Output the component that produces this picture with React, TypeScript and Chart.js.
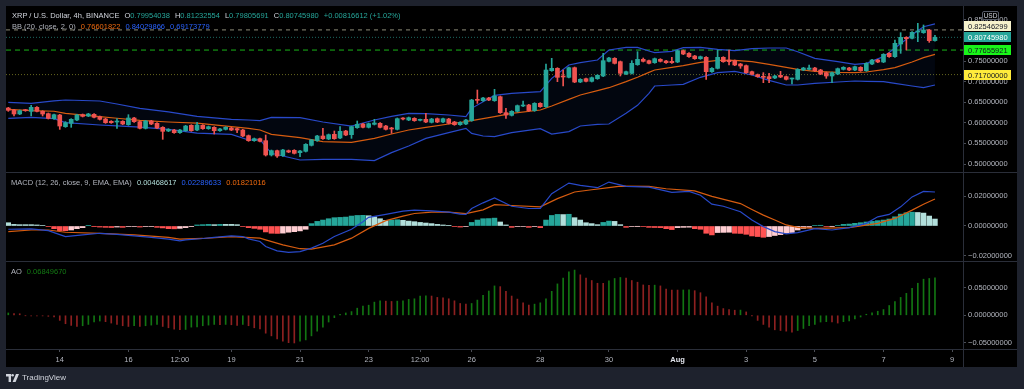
import React, { useEffect, useRef } from "react";
import { Chart, registerables } from "chart.js";

Chart.register(...registerables);

// ---------------- DATA ----------------
const opens = [
  0.6359, 0.6311, 0.6214, 0.6311, 0.6278, 0.6375, 0.6278, 0.6222, 0.6100, 0.6189,
  0.5906, 0.5987, 0.6068, 0.6197, 0.6165, 0.6206, 0.6149, 0.6092, 0.6036, 0.6019,
  0.6036, 0.5955, 0.6117, 0.6028, 0.5866, 0.6044, 0.5987, 0.5890, 0.5801, 0.5825,
  0.5761, 0.5809, 0.5939, 0.5825, 0.5939, 0.5858, 0.5890, 0.5809, 0.5841, 0.5874,
  0.5858, 0.5825, 0.5688, 0.5566, 0.5615, 0.5566, 0.5219, 0.5324, 0.5202, 0.5324,
  0.5332, 0.5275, 0.5308, 0.5453, 0.5566, 0.5680, 0.5607, 0.5720, 0.5631, 0.5801,
  0.5712, 0.5882, 0.5971, 0.5890, 0.5963, 0.5987, 0.5922, 0.5866, 0.5841, 0.6100,
  0.6068, 0.6108, 0.6060, 0.6084, 0.6011, 0.6100, 0.6019, 0.6092, 0.6019, 0.5955,
  0.5971, 0.6052, 0.6553, 0.6537, 0.6602, 0.6537, 0.6634, 0.6246, 0.6181, 0.6278,
  0.6408, 0.6432, 0.6295, 0.6472, 0.6392, 0.7265, 0.7322, 0.7120, 0.7104, 0.7338,
  0.6990, 0.7071, 0.7006, 0.7071, 0.7136, 0.7492, 0.7565, 0.7484, 0.7184, 0.7201,
  0.7411, 0.7540, 0.7508, 0.7459, 0.7540, 0.7500, 0.7492, 0.7476, 0.7751, 0.7686,
  0.7621, 0.7557, 0.7589, 0.7241, 0.7322, 0.7589, 0.7524, 0.7508, 0.7427, 0.7387,
  0.7241, 0.7168, 0.7112, 0.7120, 0.7087, 0.7152, 0.7120, 0.7063, 0.7055, 0.7281,
  0.7298, 0.7330, 0.7281, 0.7217, 0.7136, 0.7184, 0.7298, 0.7330, 0.7281, 0.7346,
  0.7265, 0.7427, 0.7524, 0.7476, 0.7686, 0.7605, 0.7913, 0.8074, 0.8050, 0.8204,
  0.8188, 0.8252, 0.79954038,
];
const highs = [
  0.6375, 0.6327, 0.6311, 0.6327, 0.6424, 0.6392, 0.6295, 0.6238, 0.6214, 0.6206,
  0.6028, 0.6100, 0.6206, 0.6214, 0.6230, 0.6222, 0.6165, 0.6108, 0.6052, 0.6100,
  0.6052, 0.6197, 0.6133, 0.6044, 0.6060, 0.6060, 0.6003, 0.5906, 0.5858, 0.5841,
  0.5841, 0.5939, 0.5955, 0.6011, 0.5955, 0.5922, 0.5906, 0.5866, 0.5906, 0.5890,
  0.5874, 0.5841, 0.5704, 0.5631, 0.5631, 0.5704, 0.5340, 0.5340, 0.5356, 0.5340,
  0.5348, 0.5332, 0.5494, 0.5599, 0.5696, 0.5866, 0.5728, 0.5801, 0.5906, 0.5817,
  0.5922, 0.6044, 0.5987, 0.5995, 0.6084, 0.6003, 0.5939, 0.5890, 0.6117, 0.6125,
  0.6141, 0.6125, 0.6092, 0.6230, 0.6108, 0.6117, 0.6117, 0.6108, 0.6036, 0.6028,
  0.6084, 0.6570, 0.6796, 0.6618, 0.6618, 0.6812, 0.6650, 0.6351, 0.6295, 0.6432,
  0.6529, 0.6448, 0.6489, 0.6489, 0.7427, 0.7565, 0.7338, 0.7281, 0.7354, 0.7354,
  0.7071, 0.7087, 0.7112, 0.7168, 0.7686, 0.7589, 0.7581, 0.7500, 0.7257, 0.7508,
  0.7726, 0.7573, 0.7524, 0.7573, 0.7557, 0.7516, 0.7589, 0.7767, 0.7767, 0.7702,
  0.7637, 0.7621, 0.7605, 0.7338, 0.7767, 0.7605, 0.7767, 0.7524, 0.7443, 0.7403,
  0.7257, 0.7184, 0.7217, 0.7201, 0.7152, 0.7249, 0.7136, 0.7087, 0.7314, 0.7346,
  0.7403, 0.7346, 0.7298, 0.7233, 0.7233, 0.7330, 0.7362, 0.7346, 0.7379, 0.7362,
  0.7459, 0.7540, 0.7540, 0.7678, 0.7702, 0.8010, 0.8188, 0.8090, 0.8212, 0.8414,
  0.8374, 0.8268, 0.81232554,
];
const lows = [
  0.6278, 0.6165, 0.6197, 0.6278, 0.6165, 0.6262, 0.6165, 0.6092, 0.6084, 0.5841,
  0.5890, 0.5890, 0.6052, 0.6141, 0.6149, 0.6117, 0.6068, 0.5987, 0.5987, 0.5866,
  0.5955, 0.5939, 0.6011, 0.5850, 0.5850, 0.5955, 0.5858, 0.5599, 0.5785, 0.5744,
  0.5744, 0.5793, 0.5793, 0.5809, 0.5841, 0.5841, 0.5728, 0.5793, 0.5825, 0.5809,
  0.5761, 0.5663, 0.5550, 0.5550, 0.5534, 0.5194, 0.5194, 0.5162, 0.5186, 0.5275,
  0.5243, 0.5178, 0.5291, 0.5437, 0.5550, 0.5599, 0.5591, 0.5599, 0.5615, 0.5688,
  0.5623, 0.5866, 0.5874, 0.5874, 0.5947, 0.5874, 0.5825, 0.5744, 0.5825, 0.6068,
  0.6052, 0.6036, 0.6044, 0.6003, 0.5995, 0.6003, 0.6003, 0.5971, 0.5939, 0.5939,
  0.5955, 0.6036, 0.6472, 0.6521, 0.6537, 0.6521, 0.6230, 0.6108, 0.6165, 0.6262,
  0.6392, 0.6278, 0.6278, 0.6375, 0.6375, 0.7249, 0.6998, 0.6893, 0.7087, 0.6974,
  0.6974, 0.6990, 0.6990, 0.7055, 0.7120, 0.7476, 0.7427, 0.7136, 0.7168, 0.7184,
  0.7395, 0.7476, 0.7427, 0.7443, 0.7476, 0.7443, 0.7443, 0.7459, 0.7654, 0.7589,
  0.7540, 0.7540, 0.7055, 0.7225, 0.7306, 0.7468, 0.7403, 0.7387, 0.7322, 0.7201,
  0.7160, 0.7104, 0.6974, 0.6974, 0.7071, 0.7095, 0.7039, 0.6942, 0.7039, 0.7265,
  0.7281, 0.7249, 0.7168, 0.7079, 0.6974, 0.7168, 0.7281, 0.7265, 0.7265, 0.7249,
  0.7249, 0.7411, 0.7459, 0.7459, 0.7589, 0.7589, 0.7686, 0.7767, 0.8034, 0.7969,
  0.8171, 0.7953, 0.79805691,
];
const closes = [
  0.6303, 0.6214, 0.6295, 0.6295, 0.6375, 0.6278, 0.6214, 0.6108, 0.6197, 0.5922,
  0.6003, 0.6084, 0.6189, 0.6157, 0.6214, 0.6133, 0.6084, 0.6003, 0.6003, 0.6036,
  0.5971, 0.6117, 0.6028, 0.5866, 0.6044, 0.5971, 0.5874, 0.5793, 0.5841, 0.5761,
  0.5825, 0.5922, 0.5809, 0.5947, 0.5858, 0.5906, 0.5809, 0.5850, 0.5890, 0.5825,
  0.5825, 0.5680, 0.5566, 0.5615, 0.5550, 0.5219, 0.5324, 0.5194, 0.5340, 0.5291,
  0.5259, 0.5316, 0.5477, 0.5583, 0.5680, 0.5615, 0.5712, 0.5615, 0.5793, 0.5704,
  0.5906, 0.5963, 0.5890, 0.5979, 0.5995, 0.5890, 0.5841, 0.5850, 0.6100, 0.6092,
  0.6125, 0.6052, 0.6076, 0.6019, 0.6092, 0.6019, 0.6100, 0.5987, 0.5955, 0.6011,
  0.6068, 0.6553, 0.6545, 0.6602, 0.6553, 0.6650, 0.6246, 0.6189, 0.6278, 0.6416,
  0.6432, 0.6295, 0.6472, 0.6392, 0.7281, 0.7322, 0.7104, 0.7112, 0.7338, 0.6990,
  0.7055, 0.7006, 0.7095, 0.7152, 0.7508, 0.7573, 0.7443, 0.7201, 0.7241, 0.7443,
  0.7540, 0.7492, 0.7443, 0.7557, 0.7492, 0.7459, 0.7459, 0.7751, 0.7670, 0.7605,
  0.7557, 0.7605, 0.7241, 0.7322, 0.7589, 0.7484, 0.7484, 0.7403, 0.7379, 0.7217,
  0.7176, 0.7120, 0.7104, 0.7071, 0.7136, 0.7112, 0.7055, 0.7071, 0.7298, 0.7330,
  0.7330, 0.7265, 0.7184, 0.7136, 0.7217, 0.7314, 0.7346, 0.7281, 0.7362, 0.7265,
  0.7443, 0.7524, 0.7476, 0.7662, 0.7605, 0.7929, 0.8074, 0.8042, 0.8196, 0.8212,
  0.8252, 0.7993, 0.8074598,
];

// Bollinger Bands (20, close, 2) at these candle indices
const bbIdx = [
  0, 4, 8, 10, 16, 19, 23, 28, 33, 39, 42, 44, 46, 51, 55, 60, 64, 67, 70, 73,
  77, 80, 81, 83, 85, 88, 93, 95, 98, 100, 103, 105, 108, 110, 112, 113, 116, 118, 121, 124,
  127, 130, 133, 136, 138, 141, 145, 148, 150, 153, 155, 158, 160, 162,
];
const bbUpper = [
  0.6497, 0.6472, 0.6530, 0.6553, 0.6529, 0.6456, 0.6351, 0.6265, 0.6155, 0.6084,
  0.6068, 0.6052, 0.6133, 0.6125, 0.6019, 0.5922, 0.6068, 0.6157, 0.6230, 0.6222,
  0.6189, 0.6149, 0.6351, 0.6513, 0.6666, 0.6715, 0.6756, 0.7079, 0.7403, 0.7459,
  0.7524, 0.7767, 0.7832, 0.7832, 0.7743, 0.7702, 0.7735, 0.7824, 0.7832, 0.7783,
  0.7751, 0.7799, 0.7816, 0.7816, 0.7726, 0.7565, 0.7484, 0.7419, 0.7443, 0.7605,
  0.7816, 0.8139, 0.8333, 0.84029866,
];
const bbBasis = [
  0.6327, 0.6295, 0.6280, 0.6230, 0.6149, 0.6110, 0.6060, 0.6019, 0.5990, 0.5906,
  0.5866, 0.5825, 0.5720, 0.5640, 0.5542, 0.5526, 0.5623, 0.5728, 0.5825, 0.5890,
  0.5971, 0.6028, 0.6052, 0.6100, 0.6149, 0.6230, 0.6311, 0.6408, 0.6570, 0.6675,
  0.6780, 0.6852, 0.6998, 0.7104, 0.7225, 0.7281, 0.7346, 0.7387, 0.7468, 0.7516,
  0.7516, 0.7484, 0.7419, 0.7346, 0.7298, 0.7249, 0.7225, 0.7217, 0.7233, 0.7290,
  0.7338, 0.7476, 0.7581, 0.76601822,
];
const bbLower = [
  0.6108, 0.6133, 0.6100, 0.6003, 0.5947, 0.5925, 0.5895, 0.5841, 0.5750, 0.5720,
  0.5583, 0.5590, 0.5259, 0.5097, 0.5113, 0.5113, 0.5081, 0.5275, 0.5437, 0.5623,
  0.5761, 0.5866, 0.5744, 0.5680, 0.5664, 0.5761, 0.5858, 0.5728, 0.5785, 0.5922,
  0.5963, 0.5971, 0.6230, 0.6424, 0.6715, 0.6893, 0.6918, 0.6933, 0.7104, 0.7217,
  0.7249, 0.7160, 0.7031, 0.6918, 0.6918, 0.6958, 0.6990, 0.7015, 0.7006, 0.6998,
  0.6958, 0.6893, 0.6853, 0.69173779,
];

// MACD (12, 26, close, 9)
const macdIdx = [
  0, 4, 7, 10, 13, 16, 19, 22, 25, 28, 30, 31, 34, 36, 39, 41, 42, 44, 45, 47,
  49, 51, 53, 55, 57, 60, 62, 63, 66, 69, 71, 74, 77, 79, 80, 81, 83, 85, 88, 91,
  93, 95, 98, 100, 103, 105, 108, 112, 116, 119, 121, 123, 125, 128, 130, 132, 134, 136, 138, 141,
  144, 147, 150, 152, 154, 156, 158, 160, 162,
];
const macdLine = [
  -0.0022, -0.0020, -0.0031, -0.0071, -0.0060, -0.0049, -0.0056, -0.0067, -0.0076, -0.0089,
  -0.0100, -0.0093, -0.0084, -0.0076, -0.0067, -0.0071, -0.0087, -0.0104, -0.0138, -0.0167,
  -0.0178, -0.0173, -0.0149, -0.0116, -0.0071, -0.0022, 0.0029, 0.0058, 0.0078, 0.0100,
  0.0107, 0.0102, 0.0093, 0.0080, 0.0078, 0.0118, 0.0156, 0.0189, 0.0133, 0.0118,
  0.0118, 0.0218, 0.0289, 0.0273, 0.0258, 0.0296, 0.0267, 0.0262, 0.0227, 0.0233,
  0.0207, 0.0147, 0.0133, 0.0096, 0.0040, -0.0004, -0.0038, -0.0053, -0.0044, -0.0018,
  -0.0027, -0.0011, 0.0018, 0.0062, 0.0078, 0.0129, 0.0196, 0.0233, 0.02289633,
];
const signalIdx = [
  0, 4, 7, 10, 16, 22, 28, 30, 34, 39, 44, 45, 48, 51, 53, 57, 60, 63, 66, 69,
  71, 74, 77, 80, 83, 85, 88, 93, 96, 99, 102, 105, 107, 112, 115, 120, 123, 128, 130, 132,
  134, 136, 138, 141, 147, 152, 155, 158, 160, 162,
];
const signalLine = [
  -0.0038, -0.0027, -0.0027, -0.0042, -0.0049, -0.0060, -0.0076, -0.0089, -0.0084, -0.0071,
  -0.0082, -0.0093, -0.0127, -0.0153, -0.0156, -0.0127, -0.0082, -0.0016, 0.0036, 0.0067,
  0.0084, 0.0093, 0.0093, 0.0084, 0.0109, 0.0144, 0.0138, 0.0129, 0.0184, 0.0229,
  0.0244, 0.0258, 0.0269, 0.0267, 0.0251, 0.0236, 0.0200, 0.0151, 0.0111, 0.0073,
  0.0040, 0.0007, -0.0009, -0.0016, -0.0011, 0.0018, 0.0051, 0.0107, 0.0147, 0.01821016,
];
const macdHist = [
  0.0022, 0.0011, 0.0009, 0.0009, 0.0009, 0.0007, 0.0004, -0.0004, -0.0018, -0.0031,
  -0.0032, -0.0027, -0.0018, -0.0011, 0.0002, -0.0002, -0.0007, -0.0009, -0.0010, -0.0007,
  -0.0009, -0.0004, -0.0004, -0.0007, -0.0004, -0.0004, -0.0009, -0.0013, -0.0018, -0.0019,
  -0.0016, -0.0011, -0.0002, 0.0007, 0.0009, 0.0011, 0.0009, 0.0011, 0.0011, 0.0011,
  0.0009, -0.0004, -0.0011, -0.0016, -0.0022, -0.0040, -0.0049, -0.0050, -0.0048, -0.0042,
  -0.0038, -0.0033, -0.0022, 0.0016, 0.0031, 0.0040, 0.0049, 0.0056, 0.0058, 0.0060,
  0.0067, 0.0071, 0.0072, 0.0069, 0.0062, 0.0049, 0.0038, 0.0040, 0.0042, 0.0038,
  0.0033, 0.0029, 0.0024, 0.0020, 0.0016, 0.0011, 0.0007, 0.0002, -0.0004, -0.0007,
  -0.0004, 0.0024, 0.0040, 0.0049, 0.0050, 0.0053, 0.0027, 0.0007, -0.0009, -0.0004,
  -0.0003, -0.0009, -0.0004, -0.0011, 0.0040, 0.0071, 0.0078, 0.0077, 0.0079, 0.0056,
  0.0040, 0.0022, 0.0016, 0.0009, 0.0024, 0.0033, 0.0031, 0.0009, -0.0009, -0.0004,
  -0.0002, -0.0004, -0.0009, -0.0010, -0.0011, -0.0018, -0.0024, -0.0011, -0.0009, -0.0008,
  -0.0018, -0.0022, -0.0049, -0.0060, -0.0044, -0.0043, -0.0042, -0.0049, -0.0050, -0.0056,
  -0.0067, -0.0071, -0.0076, -0.0071, -0.0064, -0.0058, -0.0049, -0.0044, -0.0027, -0.0016,
  -0.0009, 0.0004, 0.0005, -0.0004, -0.0002, 0.0004, 0.0011, 0.0013, 0.0018, 0.0022,
  0.0027, 0.0031, 0.0036, 0.0040, 0.0047, 0.0062, 0.0080, 0.0089, 0.0093, 0.0091,
  0.0087, 0.0067, 0.00468617,
];

// Awesome Oscillator
const aoValues = [
  0.0043, 0.0031, 0.0028, -0.0006, -0.0008, -0.0009, -0.0011, -0.0019, -0.0031, -0.0093,
  -0.0154, -0.0185, -0.0204, -0.0191, -0.0167, -0.0123, -0.0105, -0.0117, -0.0142, -0.0167,
  -0.0191, -0.0204, -0.0191, -0.0204, -0.0191, -0.0179, -0.0167, -0.0204, -0.0228, -0.0253,
  -0.0265, -0.0259, -0.0216, -0.0214, -0.0191, -0.0179, -0.0167, -0.0173, -0.0167, -0.0173,
  -0.0185, -0.0167, -0.0191, -0.0228, -0.0247, -0.0327, -0.0376, -0.0432, -0.0475, -0.0500,
  -0.0506, -0.0475, -0.0450, -0.0376, -0.0290, -0.0216, -0.0123, -0.0043, 0.0019, 0.0043,
  0.0068, 0.0130, 0.0167, 0.0185, 0.0241, 0.0265, 0.0259, 0.0253, 0.0259, 0.0265,
  0.0290, 0.0302, 0.0352, 0.0358, 0.0352, 0.0327, 0.0321, 0.0302, 0.0265, 0.0216,
  0.0204, 0.0216, 0.0278, 0.0367, 0.0444, 0.0537, 0.0524, 0.0438, 0.0352, 0.0296,
  0.0228, 0.0185, 0.0204, 0.0228, 0.0302, 0.0438, 0.0574, 0.0679, 0.0796, 0.0827,
  0.0740, 0.0679, 0.0636, 0.0586, 0.0584, 0.0629, 0.0673, 0.0691, 0.0679, 0.0636,
  0.0605, 0.0555, 0.0549, 0.0551, 0.0537, 0.0481, 0.0463, 0.0461, 0.0463, 0.0465,
  0.0450, 0.0413, 0.0339, 0.0228, 0.0167, 0.0123, 0.0105, 0.0093, 0.0095, 0.0062,
  -0.0006, -0.0093, -0.0167, -0.0216, -0.0265, -0.0278, -0.0290, -0.0309, -0.0278, -0.0241,
  -0.0191, -0.0167, -0.0123, -0.0117, -0.0123, -0.0142, -0.0117, -0.0105, -0.0068, -0.0031,
  0.0019, 0.0043, 0.0074, 0.0105, 0.0179, 0.0253, 0.0327, 0.0401, 0.0494, 0.0586,
  0.0660, 0.0673, 0.0684967,
];

// Horizontal price levels shown with labels on the price scale
const levelValues = [0.82546299, 0.8074598, 0.77655921, 0.717];

// Axis ticks
const priceTicks = [0.5, 0.55, 0.6, 0.65, 0.7, 0.75, 0.8, 0.85];
const macdTicks = [-0.02, 0, 0.02];
const aoTicks = [-0.05, 0, 0.05];
const timeTickIdx = [9, 21, 30, 39, 51, 63, 72, 81, 93, 105, 117, 129, 141, 153, 165];
const timeTickLabels = ["14", "16", "12:00", "19", "21", "23", "12:00", "26", "28", "30", "Aug", "3", "5", "7", "9"];

// ---------------- STYLE ----------------
const FONT = '"Liberation Sans", Arial, sans-serif';
const FS = 7.5;
const UP = "#26a69a";
const DOWN = "#ef5350";
const BLUE = "#2962ff";
const ORANGE = "#f06a0e";
const BLUE_LINE = "#2849c9";
const ORANGE_LINE = "#d65c10";
const AXIS_TEXT = "#b2b5be";
const SEP = "#2a2e39";
const X_MIN = -0.4;
const X_MAX = 166.9;

const levelStyles = [
  { line: "#8e8c78", dash: [4, 4], bg: "#f6f2cc", text: "#131722" },
  { line: "#1d6a63", dash: [1, 2], bg: "#26a69a", text: "#ffffff" },
  { line: "#19b419", dash: [5, 4], bg: "#19f519", text: "#131722" },
  { line: "#66661e", dash: [1, 2], bg: "#ffeb3b", text: "#131722" },
];

const fmt = (v: number) => (Math.abs(v) < 1e-12 ? 0 : v).toFixed(8).replace("-", "\u2212");

function yScale(min: number, max: number, ticks: number[]) {
  return {
    position: "right",
    min,
    max,
    afterBuildTicks: (s: any) => {
      s.ticks = ticks.map((v) => ({ value: v }));
    },
    afterFit: (s: any) => {
      s.width = 54;
      s.paddingTop = 0;
      s.paddingBottom = 0;
    },
    ticks: {
      padding: 2,
      color: AXIS_TEXT,
      font: { family: FONT, size: FS },
      callback: (v: any) => fmt(Number(v)),
    },
    grid: { drawOnChartArea: false, drawTicks: true, tickLength: 3, color: "#4a4d55" },
    border: { display: false },
  };
}

function xScale(display: boolean) {
  return {
    type: "linear",
    min: X_MIN,
    max: X_MAX,
    offset: false,
    display,
    afterBuildTicks: (s: any) => {
      s.ticks = timeTickIdx.map((v) => ({ value: v }));
    },
    afterFit: (s: any) => {
      s.height = display ? 18 : 0;
      s.paddingLeft = 0;
      s.paddingRight = 0;
    },
    ticks: {
      autoSkip: false,
      maxRotation: 0,
      minRotation: 0,
      padding: 3,
      color: (c: any) => (c.tick && c.tick.value === 117 ? "#e0e3eb" : AXIS_TEXT),
      font: (c: any) => ({
        family: FONT,
        size: FS,
        weight: c.tick && c.tick.value === 117 ? "bold" : "normal",
      }),
      callback: (v: any) => {
        const k = timeTickIdx.indexOf(Number(v));
        return k >= 0 ? timeTickLabels[k] : "";
      },
    },
    grid: { drawOnChartArea: false, drawTicks: true, tickLength: 3, offset: false, color: "#4a4d55" },
    border: { display: false },
  };
}

const badgePlugin = {
  id: "priceBadges",
  afterDraw(chart: any) {
    const { ctx, chartArea, scales } = chart;
    const ys = scales.y;
    const items = levelValues.map((v, k) => ({ v, k, py: ys.getPixelForValue(v) }));
    items.sort((a, b) => a.py - b.py);
    const h = 10;
    const step = 11;
    for (let i = items.length - 2; i >= 0; i--) {
      if (items[i + 1].py - items[i].py < step) items[i].py = items[i + 1].py - step;
    }
    ctx.save();
    ctx.font = `${FS}px ${FONT}`;
    ctx.textBaseline = "middle";
    ctx.textAlign = "left";
    items.forEach((it) => {
      const st = levelStyles[it.k];
      ctx.fillStyle = st.bg;
      ctx.fillRect(chartArea.right, Math.round(it.py - h / 2), 48, h);
      ctx.fillStyle = st.text;
      ctx.fillText(it.v.toFixed(8), chartArea.right + 5, Math.round(it.py - h / 2) + h / 2 + 0.5);
    });
    ctx.restore();
  },
};

const baseOptions = {
  responsive: false,
  animation: false,
  devicePixelRatio: 1,
  events: [],
  layout: { padding: 0 },
  plugins: { legend: { display: false }, tooltip: { enabled: false } },
};

export default function App() {
  const priceRef = useRef<HTMLCanvasElement>(null);
  const macdRef = useRef<HTMLCanvasElement>(null);
  const aoRef = useRef<HTMLCanvasElement>(null);

  useEffect(() => {
    document.body.style.margin = "0";
    document.body.style.background = "#1e222d";
    const idx = closes.map((_, i) => i);
    const candleColors = idx.map((i) => (closes[i] >= opens[i] ? UP : DOWN));

    const priceChart = new Chart(priceRef.current as HTMLCanvasElement, {
      type: "bar",
      data: {
        datasets: [
          {
            type: "bar",
            data: idx.map((i) => ({ x: i, y: [opens[i], closes[i]] })),
            backgroundColor: candleColors,
            barThickness: 4,
            grouped: false,
            minBarLength: 1,
            order: 0,
          },
          {
            type: "bar",
            data: idx.map((i) => ({ x: i, y: [lows[i], highs[i]] })),
            backgroundColor: candleColors,
            barThickness: 1,
            grouped: false,
            order: 1,
          },
          {
            type: "line",
            data: bbIdx.map((x, k) => ({ x, y: bbUpper[k] })),
            borderColor: BLUE_LINE,
            borderWidth: 1.2,
            pointRadius: 0,
            fill: false,
            order: 3,
          },
          {
            type: "line",
            data: bbIdx.map((x, k) => ({ x, y: bbLower[k] })),
            borderColor: BLUE_LINE,
            borderWidth: 1.2,
            pointRadius: 0,
            fill: 2,
            backgroundColor: "rgba(41,98,255,0.06)",
            order: 3,
          },
          {
            type: "line",
            data: bbIdx.map((x, k) => ({ x, y: bbBasis[k] })),
            borderColor: ORANGE_LINE,
            borderWidth: 1.2,
            pointRadius: 0,
            fill: false,
            order: 2,
          },
          ...levelValues.map((v, k) => ({
            type: "line",
            data: [
              { x: X_MIN, y: v },
              { x: X_MAX, y: v },
            ],
            borderColor: levelStyles[k].line,
            borderDash: levelStyles[k].dash,
            borderWidth: 1,
            pointRadius: 0,
            fill: false,
            order: 5,
          })),
        ] as any,
      },
      options: {
        ...baseOptions,
        scales: {
          x: xScale(false),
          y: yScale(0.48059, 0.8835, priceTicks),
        },
      } as any,
      plugins: [badgePlugin],
    });

    const histColors = macdHist.map((v, i) => {
      const p = i > 0 ? macdHist[i - 1] : v;
      if (v >= 0) return v > p ? "#26a69a" : "#b2dfdb";
      return v < p ? "#ff5252" : "#ffcdd2";
    });

    const macdChart = new Chart(macdRef.current as HTMLCanvasElement, {
      type: "bar",
      data: {
        datasets: [
          {
            type: "bar",
            data: idx.map((i) => ({ x: i, y: macdHist[i] })),
            backgroundColor: histColors,
            barThickness: 4.8,
            grouped: false,
            order: 2,
          },
          {
            type: "line",
            data: macdIdx.map((x, k) => ({ x, y: macdLine[k] })),
            borderColor: BLUE_LINE,
            borderWidth: 1.2,
            pointRadius: 0,
            fill: false,
            order: 0,
          },
          {
            type: "line",
            data: signalIdx.map((x, k) => ({ x, y: signalLine[k] })),
            borderColor: ORANGE_LINE,
            borderWidth: 1.2,
            pointRadius: 0,
            fill: false,
            order: 1,
          },
        ] as any,
      },
      options: {
        ...baseOptions,
        scales: {
          x: xScale(false),
          y: yScale(-0.023569, 0.03569, macdTicks),
        },
      } as any,
    });

    const aoColors = aoValues.map((v, i) => {
      const p = i > 0 ? aoValues[i - 1] : v;
      return v >= p ? "#127512" : "#8e2020";
    });

    const aoChart = new Chart(aoRef.current as HTMLCanvasElement, {
      type: "bar",
      data: {
        datasets: [
          {
            type: "bar",
            data: idx.map((i) => ({ x: i, y: aoValues[i] })),
            backgroundColor: aoColors,
            barThickness: 1,
            grouped: false,
          },
        ] as any,
      },
      options: {
        ...baseOptions,
        scales: {
          x: xScale(true),
          y: yScale(-0.06161, 0.09744, aoTicks),
        },
      } as any,
    });

    return () => {
      priceChart.destroy();
      macdChart.destroy();
      aoChart.destroy();
    };
  }, []);

  const abs = (l: number, t: number, w: number, h: number, extra: any = {}) => ({
    position: "absolute" as const,
    left: l,
    top: t,
    width: w,
    height: h,
    ...extra,
  });
  const txt = {
    fontFamily: FONT,
    fontSize: `${FS}px`,
    lineHeight: "9px",
    whiteSpace: "nowrap" as const,
    position: "absolute" as const,
  };
  const gap = { marginLeft: 5 };

  return (
    <div style={{ position: "fixed", left: 0, top: 0, width: 1024, height: 389, background: "#1e222d", overflow: "hidden" }}>
      <div style={abs(6, 6, 1011, 361, { background: "#000000" })} />
      <canvas ref={priceRef} width={1011} height={166} style={abs(6, 6, 1011, 166)} />
      <canvas ref={macdRef} width={1011} height={88} style={abs(6, 173, 1011, 88)} />
      <canvas ref={aoRef} width={1011} height={105} style={abs(6, 262, 1011, 105)} />

      {/* pane separators */}
      <div style={abs(6, 172, 1011, 1, { background: SEP })} />
      <div style={abs(6, 261, 1011, 1, { background: SEP })} />
      <div style={abs(6, 349, 1011, 1, { background: SEP })} />
      <div style={abs(963, 6, 1, 361, { background: SEP })} />

      {/* legends */}
      <div style={{ ...txt, left: 12, top: 10.5, color: "#d1d4dc" }}>
        <span>XRP / U.S. Dollar, 4h, BINANCE</span>
        <span style={gap}>O</span><span style={{ color: UP }}>0.79954038</span>
        <span style={gap}>H</span><span style={{ color: UP }}>0.81232554</span>
        <span style={gap}>L</span><span style={{ color: UP }}>0.79805691</span>
        <span style={gap}>C</span><span style={{ color: UP }}>0.80745980</span>
        <span style={{ ...gap, color: UP }}>+0.00816612 (+1.02%)</span>
      </div>
      <div style={{ ...txt, left: 12, top: 21.5, color: AXIS_TEXT }}>
        <span>BB (20, close, 2, 0)</span>
        <span style={{ ...gap, color: ORANGE }}>0.76601822</span>
        <span style={{ ...gap, color: BLUE }}>0.84029866</span>
        <span style={{ ...gap, color: BLUE }}>0.69173779</span>
      </div>
      <div style={{ ...txt, left: 11, top: 178, color: AXIS_TEXT }}>
        <span>MACD (12, 26, close, 9, EMA, EMA)</span>
        <span style={{ ...gap, color: "#b2dfdb" }}>0.00468617</span>
        <span style={{ ...gap, color: BLUE }}>0.02289633</span>
        <span style={{ ...gap, color: ORANGE }}>0.01821016</span>
      </div>
      <div style={{ ...txt, left: 11, top: 266.5, color: AXIS_TEXT }}>
        <span>AO</span>
        <span style={{ ...gap, color: "#137a13" }}>0.06849670</span>
      </div>

      {/* currency badge */}
      <div
        style={abs(982, 11, 17, 9, {
          boxSizing: "border-box",
          border: "1px solid #555a66",
          borderRadius: 2,
          background: "#000",
          color: "#d1d4dc",
          fontFamily: FONT,
          fontSize: "6.5px",
          lineHeight: "7px",
          textAlign: "center",
        })}
      >
        USD
      </div>

      {/* footer brand */}
      <div style={{ position: "absolute", left: 6, top: 373, display: "flex", alignItems: "center", gap: 3 }}>
        <svg width="13" height="8" viewBox="0 0 13 8">
          <path d="M0 0H5V8H2.6V2.4H0Z" fill="#d1d4dc" />
          <circle cx="6.6" cy="1.3" r="1.3" fill="#d1d4dc" />
          <path d="M10 0H13L9.6 8H6.6Z" fill="#d1d4dc" />
        </svg>
        <span style={{ fontFamily: FONT, fontSize: "8px", color: "#d1d4dc" }}>TradingView</span>
      </div>
    </div>
  );
}
